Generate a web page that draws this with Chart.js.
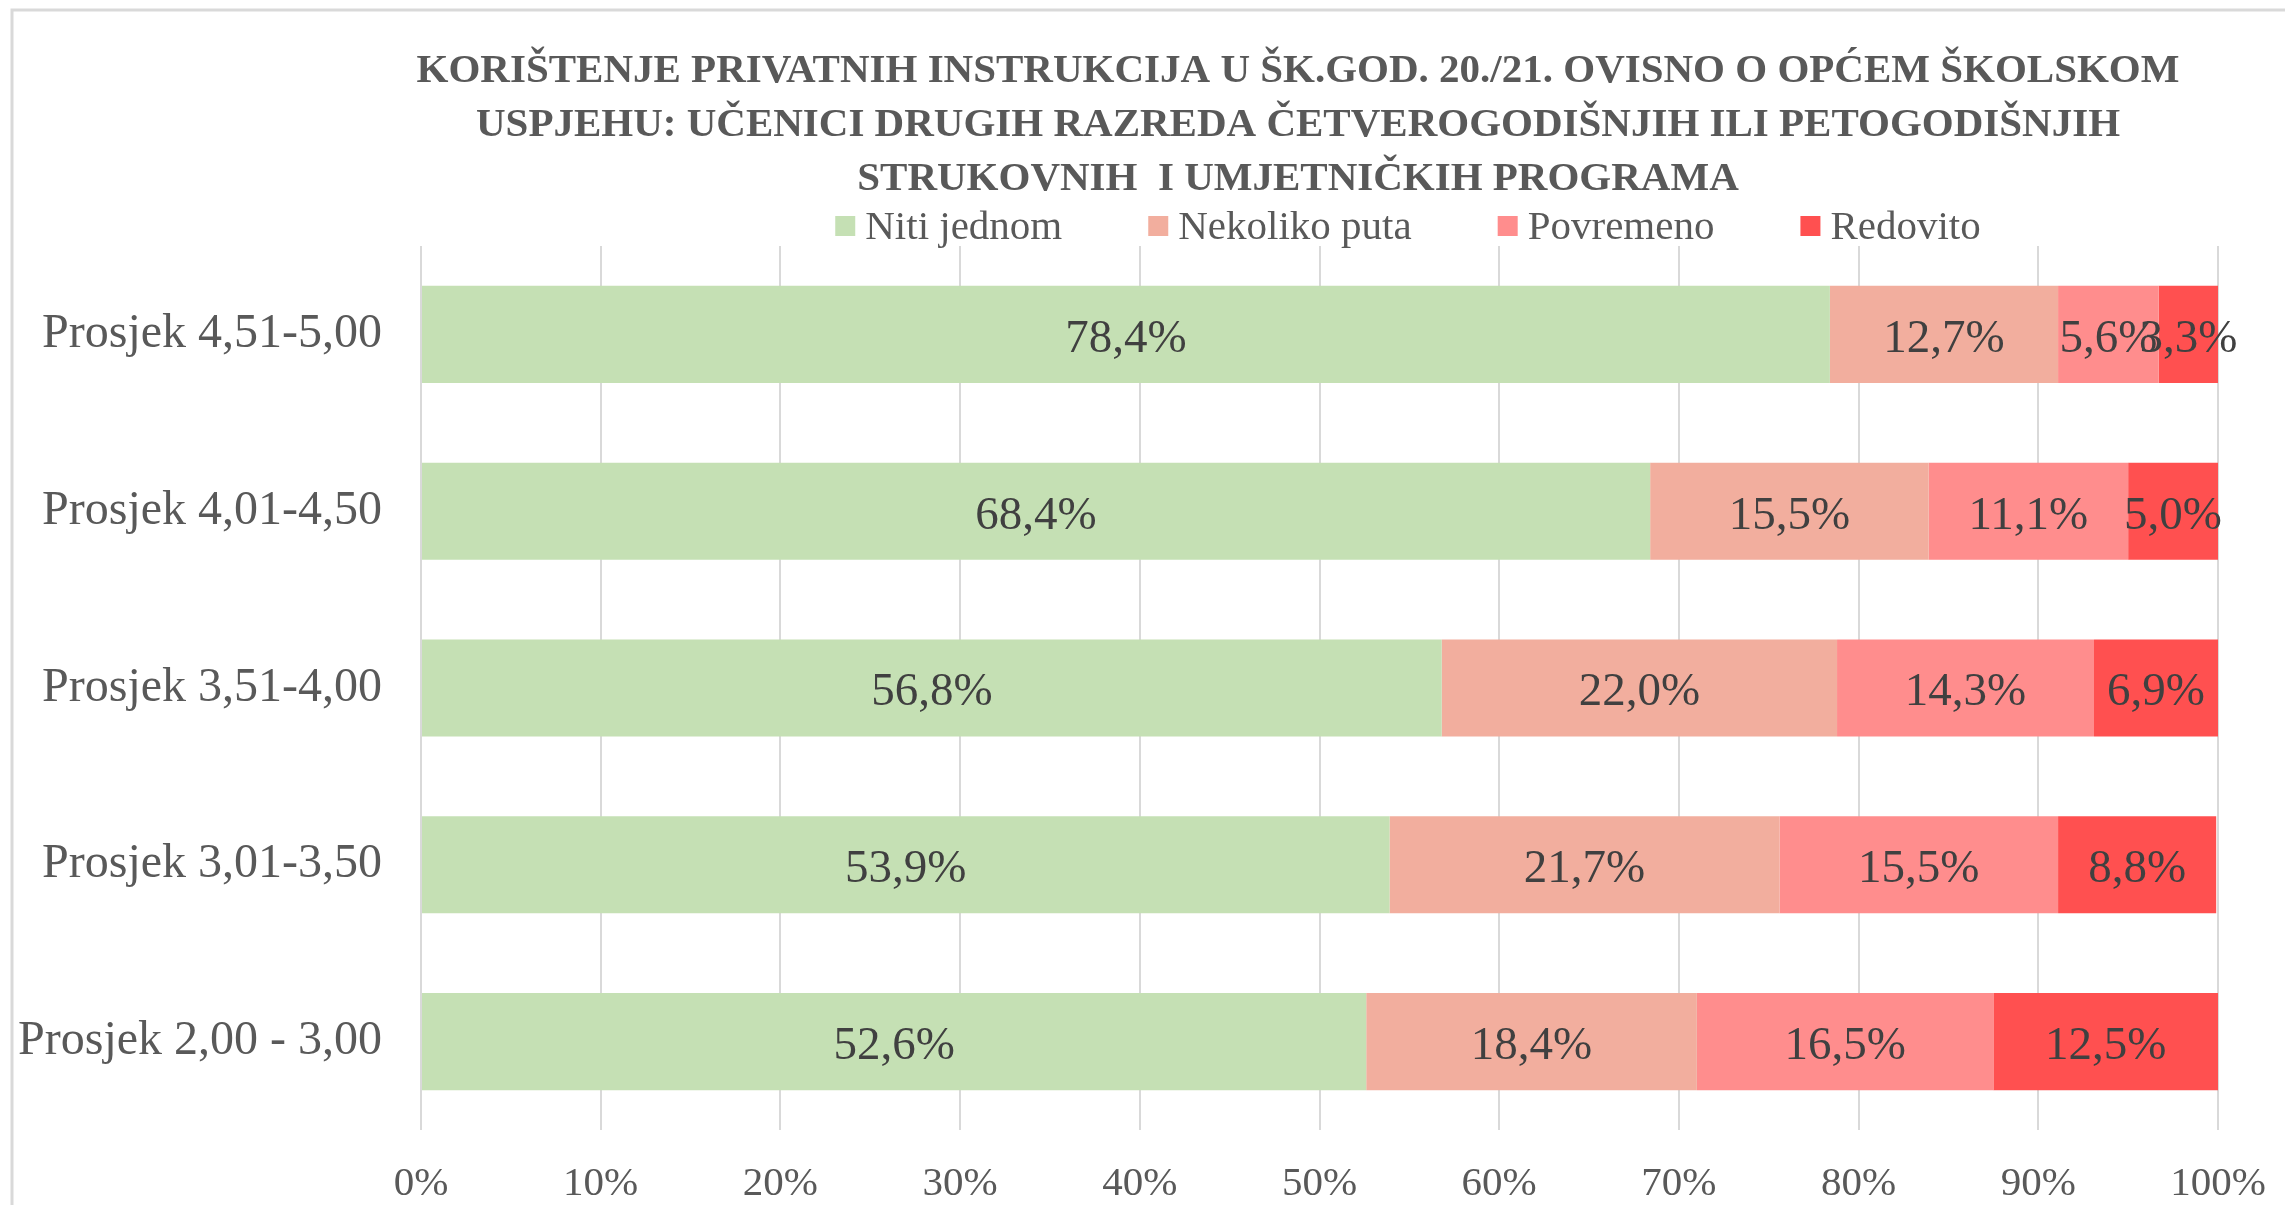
<!DOCTYPE html>
<html>
<head>
<meta charset="utf-8">
<script src="https://cdn.jsdelivr.net/npm/chart.js@4.4.1/dist/chart.umd.min.js"></script>
<style>
  html, body { margin: 0; padding: 0; background: #fff; }
</style>
</head>
<body>
<canvas id="chart" width="2285" height="1205"></canvas>
<script>
const categories = ['Prosjek 4,51-5,00', 'Prosjek 4,01-4,50', 'Prosjek 3,51-4,00', 'Prosjek 3,01-3,50', 'Prosjek 2,00 - 3,00'];
const seriesNames = ['Niti jednom', 'Nekoliko puta', 'Povremeno', 'Redovito'];
const nitiJednom = [78.4, 68.4, 56.8, 53.9, 52.6];
const nekolikoPuta = [12.7, 15.5, 22.0, 21.7, 18.4];
const povremeno = [5.6, 11.1, 14.3, 15.5, 16.5];
const redovito = [3.3, 5.0, 6.9, 8.8, 12.5];
const xTickLabels = ['0%', '10%', '20%', '30%', '40%', '50%', '60%', '70%', '80%', '90%', '100%'];
const titleLines = [
  'KORIŠTENJE PRIVATNIH INSTRUKCIJA U ŠK.GOD. 20./21. OVISNO O OPĆEM ŠKOLSKOM',
  'USPJEHU: UČENICI DRUGIH RAZREDA ČETVEROGODIŠNJIH ILI PETOGODIŠNJIH',
  'STRUKOVNIH  I UMJETNIČKIH PROGRAMA'
];

const colors = ['#C5E0B4', '#F2AE9E', '#FF8D8D', '#FF5050'];
const FONT = "'Liberation Serif', 'Times New Roman', serif";

// Excel style frame around the chart (only top/left visible)
const framePlugin = {
  id: 'frame',
  afterLayout(chart) {
    // title in the reference is centred a bit right of the canvas centre
    if (chart.titleBlock) chart.titleBlock.left = 378;
  },
  beforeDraw(chart) {
    const ctx = chart.ctx;
    ctx.save();
    ctx.strokeStyle = '#d9d9d9';
    ctx.lineWidth = 3;
    ctx.strokeRect(12, 10, 2400, 1400);
    ctx.restore();
  }
};

// legend with wide gaps like in Excel
const legendPlugin = {
  id: 'wideLegend',
  afterDraw(chart) {
    const ctx = chart.ctx;
    const box = 20, textGap = 30, itemGap = 86;
    const cx = 1408, cy = 226;
    ctx.save();
    ctx.font = '41px ' + FONT;
    ctx.textBaseline = 'middle';
    ctx.textAlign = 'left';
    const widths = chart.data.datasets.map(ds => ctx.measureText(ds.label).width);
    let total = widths.reduce((a, w) => a + w + textGap, 0) + itemGap * (widths.length - 1);
    let x = cx - total / 2;
    chart.data.datasets.forEach((ds, i) => {
      ctx.fillStyle = ds.backgroundColor;
      ctx.fillRect(x, cy - box / 2, box, box);
      ctx.fillStyle = '#595959';
      ctx.fillText(ds.label, x + textGap, cy + 2);
      x += textGap + widths[i] + itemGap;
    });
    ctx.restore();
  }
};

// value labels in the middle of each segment
const valueLabels = {
  id: 'valueLabels',
  afterDatasetsDraw(chart) {
    const ctx = chart.ctx;
    ctx.save();
    ctx.font = '47px ' + FONT;
    ctx.fillStyle = '#404040';
    ctx.textAlign = 'center';
    ctx.textBaseline = 'middle';
    chart.data.datasets.forEach((ds, di) => {
      chart.getDatasetMeta(di).data.forEach((bar, i) => {
        const v = ds.data[i];
        const txt = v.toFixed(1).replace('.', ',') + '%';
        ctx.fillText(txt, (bar.x + bar.base) / 2, bar.y + 5);
      });
    });
    ctx.restore();
  }
};

const seriesValues = [nitiJednom, nekolikoPuta, povremeno, redovito];

new Chart(document.getElementById('chart').getContext('2d'), {
  type: 'bar',
  data: {
    labels: categories,
    datasets: seriesNames.map((name, i) => ({
      label: name,
      data: seriesValues[i],
      backgroundColor: colors[i],
      borderWidth: 0,
      barPercentage: 0.549,
      categoryPercentage: 1
    }))
  },
  options: {
    indexAxis: 'y',
    responsive: false,
    animation: false,
    devicePixelRatio: 1,
    layout: { padding: { left: 0, right: 67, top: 0, bottom: 0 } },
    plugins: {
      legend: { display: false },
      tooltip: { enabled: false },
      title: {
        display: true,
        text: titleLines,
        color: '#595959',
        font: { family: FONT, size: 41, weight: 'bold', lineHeight: 1.317 },
        padding: { top: 44, bottom: 40 }
      }
    },
    scales: {
      x: {
        stacked: true,
        min: 0,
        max: 100,
        ticks: {
          stepSize: 10,
          autoSkip: false,
          maxRotation: 0,
          padding: 30,
          color: '#595959',
          font: { family: FONT, size: 41 },
          callback: (v, i) => xTickLabels[i]
        },
        grid: { color: '#d9d9d9', lineWidth: 2, drawTicks: false, tickLength: 0 },
        border: { display: false },
        afterFit: s => { s.height = 75; s.paddingLeft = 0; s.paddingRight = 0; }
      },
      y: {
        stacked: true,
        ticks: {
          padding: 39,
          color: '#595959',
          font: { family: FONT, size: 48 }
        },
        grid: { display: false, drawTicks: false, tickLength: 0 },
        border: { display: false },
        afterFit: s => { s.width = 421; }
      }
    }
  },
  plugins: [framePlugin, valueLabels, legendPlugin]
});
</script>
</body>
</html>
